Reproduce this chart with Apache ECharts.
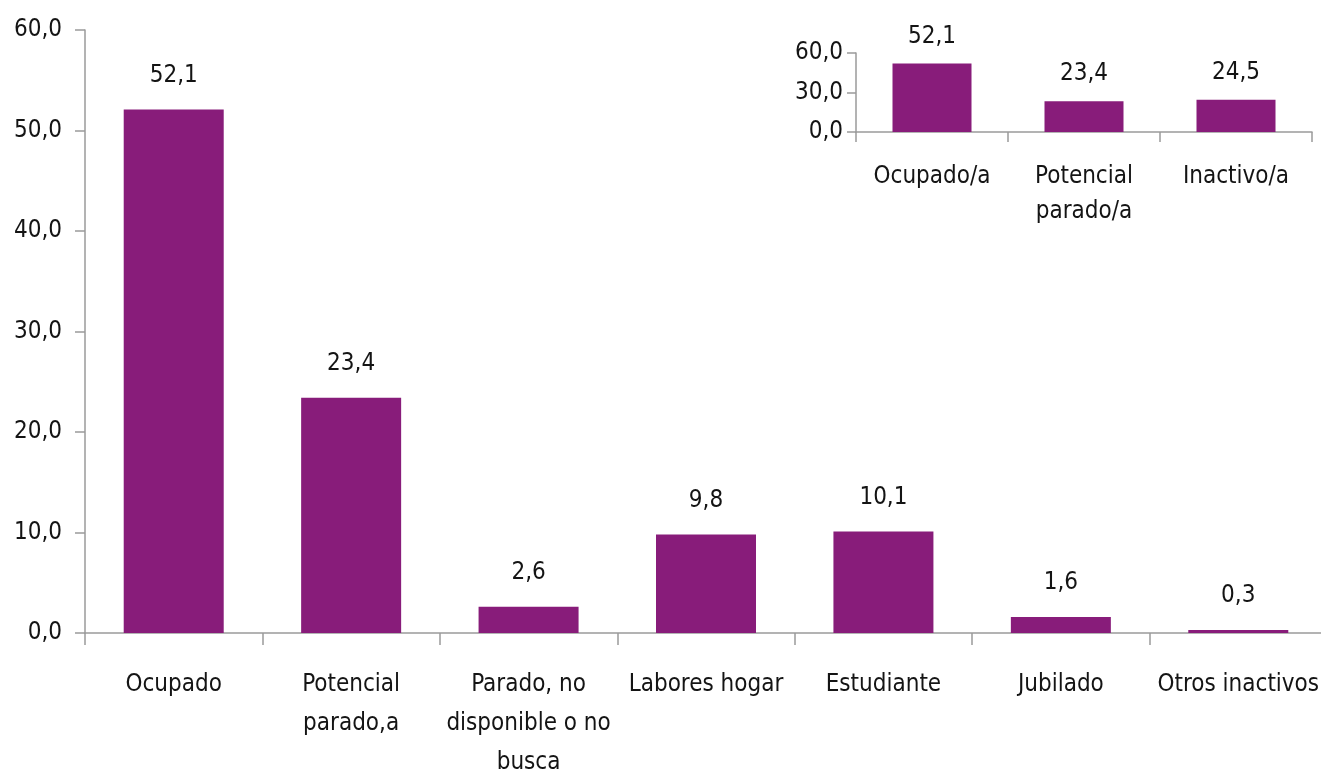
<!DOCTYPE html>
<html>
<head>
<meta charset="utf-8">
<script src="https://cdn.jsdelivr.net/npm/echarts@6/dist/echarts.min.js"></script>
<style>
  html, body { margin: 0; padding: 0; background: #fff; }
  #chart { width: 1321px; height: 774px; }
</style>
</head>
<body>
<div id="chart"></div>
<script>
// Situación laboral (%), detalle por categoría
const categories = ['Ocupado', 'Potencial\nparado,a', 'Parado, no\ndisponible o no\nbusca', 'Labores hogar', 'Estudiante', 'Jubilado', 'Otros inactivos'];
const values = [52.1, 23.4, 2.6, 9.8, 10.1, 1.6, 0.3];

// Resumen en tres grupos
const insetCategories = ['Ocupado/a', 'Potencial\nparado/a', 'Inactivo/a'];
const insetValues = [52.1, 23.4, 24.5];

const FONT = '"DejaVu Sans Condensed", "Liberation Sans Narrow", "Roboto", sans-serif';
const SIZE = 24;
const TEXT = '#141414';
const AXIS = '#9a9a9a';
const BAR = '#881C7A';

const comma = v => Number(v).toFixed(1).replace('.', ',');

const chart = echarts.init(document.getElementById('chart'), null, { renderer: 'canvas' });

chart.setOption({
  animation: false,
  backgroundColor: '#fff',
  textStyle: { fontFamily: FONT, color: TEXT },
  grid: [
    { left: 85, top: 30, width: 1242, height: 603, outerBoundsMode: 'none', containLabel: false },
    { left: 856, top: 53, width: 456, height: 79, outerBoundsMode: 'none', containLabel: false }
  ],
  xAxis: [
    {
      gridIndex: 0, type: 'category', data: categories,
      axisLine: { lineStyle: { color: AXIS, width: 1.5 } },
      axisTick: { show: true, length: 12, alignWithLabel: false, lineStyle: { color: AXIS, width: 1.5 } },
      axisLabel: { color: TEXT, fontFamily: FONT, fontSize: SIZE, lineHeight: 39, margin: 32, interval: 0 }
    },
    {
      gridIndex: 1, type: 'category', data: insetCategories,
      axisLine: { lineStyle: { color: AXIS, width: 1.5 } },
      axisTick: { show: true, length: 10, lineStyle: { color: AXIS, width: 1.5 } },
      axisLabel: { color: TEXT, fontFamily: FONT, fontSize: SIZE, lineHeight: 35, margin: 27, interval: 0 }
    }
  ],
  yAxis: [
    {
      gridIndex: 0, type: 'value', min: 0, max: 60, interval: 10,
      axisLine: { show: true, lineStyle: { color: AXIS, width: 1.5 } },
      axisTick: { show: true, length: 10, lineStyle: { color: AXIS, width: 1.5 } },
      splitLine: { show: false },
      axisLabel: { color: TEXT, fontFamily: FONT, fontSize: SIZE, margin: 23, formatter: comma }
    },
    {
      gridIndex: 1, type: 'value', min: 0, max: 60, interval: 30,
      axisLine: { show: true, lineStyle: { color: AXIS, width: 1.5 } },
      axisTick: { show: true, length: 9, lineStyle: { color: AXIS, width: 1.5 } },
      splitLine: { show: false },
      axisLabel: { color: TEXT, fontFamily: FONT, fontSize: SIZE, margin: 13, formatter: comma }
    }
  ],
  series: [
    {
      type: 'bar', xAxisIndex: 0, yAxisIndex: 0, data: values,
      barWidth: 100, itemStyle: { color: BAR },
      label: { show: true, position: 'top', distance: 22, color: TEXT, fontFamily: FONT, fontSize: SIZE,
               formatter: p => comma(p.value) }
    },
    {
      type: 'bar', xAxisIndex: 1, yAxisIndex: 1, data: insetValues,
      barWidth: 79, itemStyle: { color: BAR },
      label: { show: true, position: 'top', distance: 15, color: TEXT, fontFamily: FONT, fontSize: SIZE,
               formatter: p => comma(p.value) }
    }
  ]
});
</script>
</body>
</html>
